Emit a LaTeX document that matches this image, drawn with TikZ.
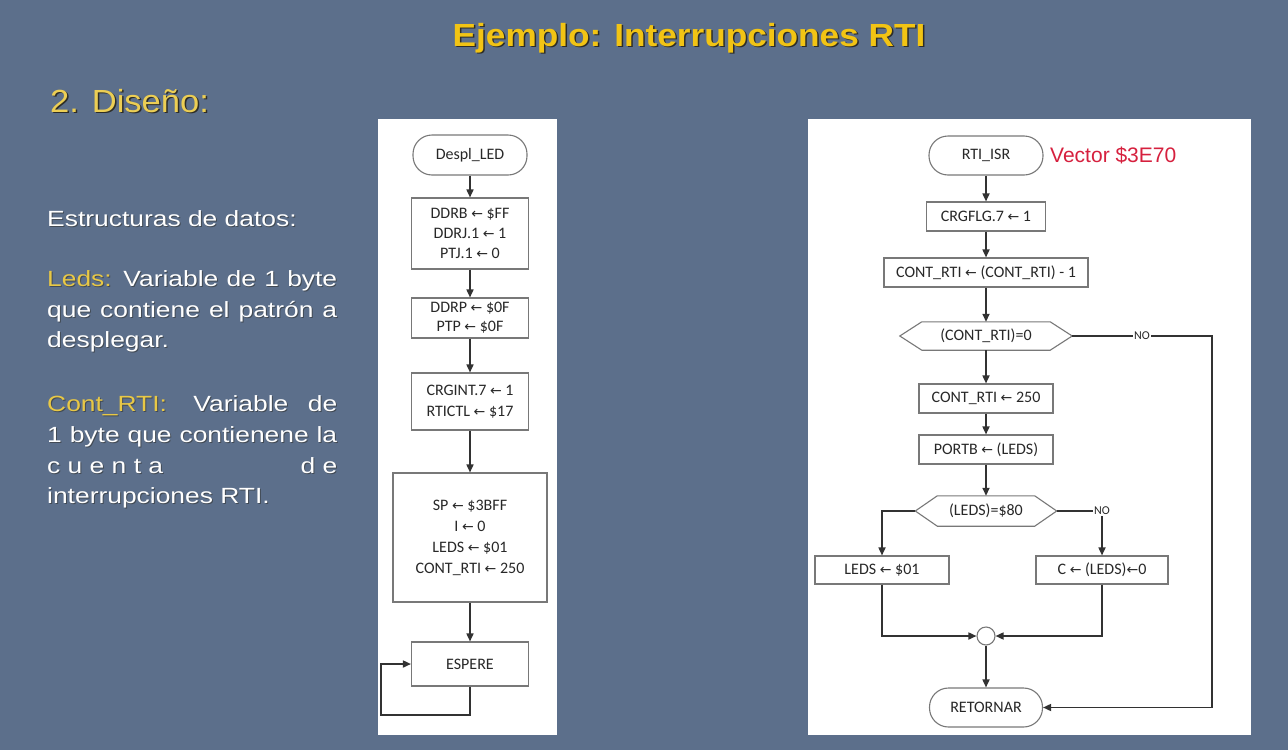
\documentclass[tikz,border=0pt]{standalone}
\usepackage{fontspec}
\setmainfont{Liberation Sans}
\newfontfamily\chartfont{Carlito}
\newfontfamily\arrowfont{DejaVu Sans}
\usetikzlibrary{arrows.meta}

\definecolor{slate}{RGB}{92,111,139}
\definecolor{titleyellow}{RGB}{242,196,20}
\definecolor{subyellow}{RGB}{236,206,84}
\definecolor{labelyellow}{RGB}{232,200,70}
\definecolor{shadowdark}{RGB}{45,45,40}
\definecolor{vecred}{RGB}{214,32,62}
\definecolor{boxgray}{RGB}{120,120,120}
\definecolor{linedark}{RGB}{50,50,50}
\definecolor{inktext}{RGB}{40,40,40}

% assignment arrow used in the flowchart steps
\newcommand\asg{{\arrowfont\fontsize{14}{16}\selectfont ←}}

\tikzset{
  panel/.style={fill=white, draw=none},
  chart/.style={font={\chartfont\fontsize{16}{20}\selectfont}, text=inktext, align=center, inner sep=0pt},
  stepbox/.style={chart, draw=boxgray, fill=white, line width=1.1pt},
  termbox/.style={stepbox, rounded corners=19pt},
  hexlabel/.style={chart, draw=none},
  hexline/.style={draw=boxgray, fill=white, line width=1.1pt},
  joinpt/.style={circle, draw=boxgray, fill=white, line width=1.1pt, minimum size=18pt, inner sep=0pt},
  flow/.style={draw=linedark, line width=1.6pt, -{Triangle[length=8pt,width=7pt]}},
  plainflow/.style={draw=linedark, line width=1.6pt},
  nolabel/.style={chart, font={\chartfont\fontsize{12}{14}\selectfont}, fill=white, inner sep=1pt},
  slidetext/.style={anchor=base west, inner sep=0pt, font=\fontsize{22}{26}\selectfont},
}

\begin{document}
\begin{tikzpicture}[x=1pt, y=-1pt]
  % background
  \useasboundingbox (0,0) rectangle (1288,750);
  \fill[slate] (0,0) rectangle (1288,750);

  % headings with a dark drop shadow
  \node[anchor=base, inner sep=0pt, text=shadowdark, font=\bfseries\fontsize{32}{36}\selectfont] (titleshadow) at (690.5,47.5) {\scalebox{1.1}[1]{Ejemplo: Interrupciones RTI}};
  \node[anchor=base, inner sep=0pt, text=titleyellow, font=\bfseries\fontsize{32}{36}\selectfont] (title) at (689,46) {\scalebox{1.1}[1]{Ejemplo: Interrupciones RTI}};
  \node[anchor=base west, inner sep=0pt, text=shadowdark, font=\fontsize{32}{36}\selectfont] (subshadow) at (51.5,113.5) {\scalebox{1.08}[1]{2. Diseño:}};
  \node[anchor=base west, inner sep=0pt, text=subyellow, font=\fontsize{32}{36}\selectfont] (sub) at (50,112) {\scalebox{1.08}[1]{2. Diseño:}};

  % data structure notes
  \foreach \n/\y/\txt in {
      t1/226/{Estructuras de datos:},
      t2/286/{\makebox[241.7pt][s]{{\color{labelyellow}Leds:} Variable de 1 byte}},
      t3/317/{\makebox[241.7pt][s]{que contiene el patrón a}},
      t4/347/{desplegar.},
      t5/411/{\makebox[241.7pt][s]{{\color{labelyellow}Cont\_RTI:}\quad Variable de}},
      t6/442/{\makebox[241.7pt][s]{1 byte que contienene la}},
      t7/473/{\makebox[241.7pt][s]{c u e n t a\hfill d e}},
      t8/503/{interrupciones RTI.}} {
    \node[slidetext, text=shadowdark, opacity=0.55] (\n s) at (48,\y+1) {\scalebox{1.2}[1]{\colorlet{labelyellow}{shadowdark}\txt}};
    \node[slidetext, text=white] (\n) at (47,\y) {\scalebox{1.2}[1]{\txt}};
  }

  % left chart: main program
  \fill[panel] (378,119) rectangle (557,735);
  \node[termbox, minimum width=114pt, minimum height=40pt] (d0) at (470,155) {Despl\_LED};
  \node[stepbox, minimum width=117pt, minimum height=71pt] (d1) at (470,233.5)
    {DDRB \asg{} \$FF\\ DDRJ.1 \asg{} 1\\ PTJ.1 \asg{} 0};
  \node[stepbox, minimum width=117pt, minimum height=40pt] (d2) at (470,318)
    {DDRP \asg{} \$0F\\[-1pt] PTP \asg{} \$0F};
  \node[stepbox, minimum width=117pt, minimum height=57pt] (d3) at (470,401.5)
    {CRGINT.7 \asg{} 1\\[1pt] RTICTL \asg{} \$17};
  \node[stepbox, minimum width=154pt, minimum height=129pt] (d4) at (470,537.5)
    {SP \asg{} \$3BFF\\[1pt] I \asg{} 0\\[1pt] LEDS \asg{} \$01\\[1pt] CONT\_RTI \asg{} 250};
  \node[stepbox, minimum width=117pt, minimum height=44pt] (esp) at (470,664) {ESPERE};
  \coordinate (lp) at (381,715);

  \draw[flow] (d0) -- (d1);
  \draw[flow] (d1) -- (d2);
  \draw[flow] (d2) -- (d3);
  \draw[flow] (d3) -- (d4);
  \draw[flow] (d4) -- (esp);
  \draw[flow] (esp.south) |- (lp) |- (esp.west);

  % right chart: RTI service routine
  \fill[panel] (808,119) rectangle (1251,735);
  \node[termbox, minimum width=114pt, minimum height=39pt] (r0) at (986,155.5) {RTI\_ISR};
  \node[anchor=base west, inner sep=0pt, text=vecred, font=\fontsize{21}{24}\selectfont] (vec) at (1050,162) {Vector \$3E70};
  \node[stepbox, minimum width=119pt, minimum height=29pt] (r1) at (986,216.5) {CRGFLG.7 \asg{} 1};
  \node[stepbox, minimum width=204pt, minimum height=29pt] (r2) at (986,272.5) {CONT\_RTI \asg{} (CONT\_RTI) - 1};

  % decision hexagons: an invisible node fixes the size, the outline is drawn around it
  \node[hexlabel, minimum width=172pt, minimum height=28pt] (h1) at (986,336) {};
  \draw[hexline] (h1.west) -- ([xshift=22pt]h1.north west) -- ([xshift=-22pt]h1.north east)
    -- (h1.east) -- ([xshift=-22pt]h1.south east) -- ([xshift=22pt]h1.south west) -- cycle;
  \node[hexlabel] (h1t) at (h1.center) {(CONT\_RTI)=0};

  \node[stepbox, minimum width=134pt, minimum height=29pt] (r3) at (986,398.5) {CONT\_RTI \asg{} 250};
  \node[stepbox, minimum width=134pt, minimum height=29pt] (r4) at (986,449.5) {PORTB \asg{} (LEDS)};

  \node[hexlabel, minimum width=141pt, minimum height=30pt] (h2) at (986,511) {};
  \draw[hexline] (h2.west) -- ([xshift=22pt]h2.north west) -- ([xshift=-22pt]h2.north east)
    -- (h2.east) -- ([xshift=-22pt]h2.south east) -- ([xshift=22pt]h2.south west) -- cycle;
  \node[hexlabel] (h2t) at (h2.center) {(LEDS)=\$80};

  \node[stepbox, minimum width=134pt, minimum height=28pt] (l1) at (882,570) {LEDS \asg{} \$01};
  \node[stepbox, minimum width=132pt, minimum height=28pt] (rb) at (1102,570) {C \asg{} (LEDS)\asg0};
  \node[joinpt] (jn) at (986,636) {};
  \node[termbox, minimum width=113pt, minimum height=39pt] (ret) at (986,707.5) {RETORNAR};

  \coordinate (c1) at (1212,336);
  \node[nolabel] (no1) at (1142,336) {NO};
  \node[nolabel] (no2) at (1102,511) {NO};

  \draw[flow] (r0) -- (r1);
  \draw[flow] (r1) -- (r2);
  \draw[flow] (r2) -- (h1);
  \draw[flow] (h1) -- (r3);
  \draw[flow] (r3) -- (r4);
  \draw[flow] (r4) -- (h2);
  \draw[plainflow] (h1.east) -- (no1.west);
  \draw[flow] (no1.east) -- (c1) |- (ret.east);
  \draw[flow] (h2.west) -| (l1.north);
  \draw[plainflow] (h2.east) -- (no2.west);
  \draw[flow] (no2.south) -- (rb.north);
  \draw[flow] (l1.south) |- (jn.west);
  \draw[flow] (rb.south) |- (jn.east);
  \draw[flow] (jn) -- (ret);
\end{tikzpicture}
\end{document}
